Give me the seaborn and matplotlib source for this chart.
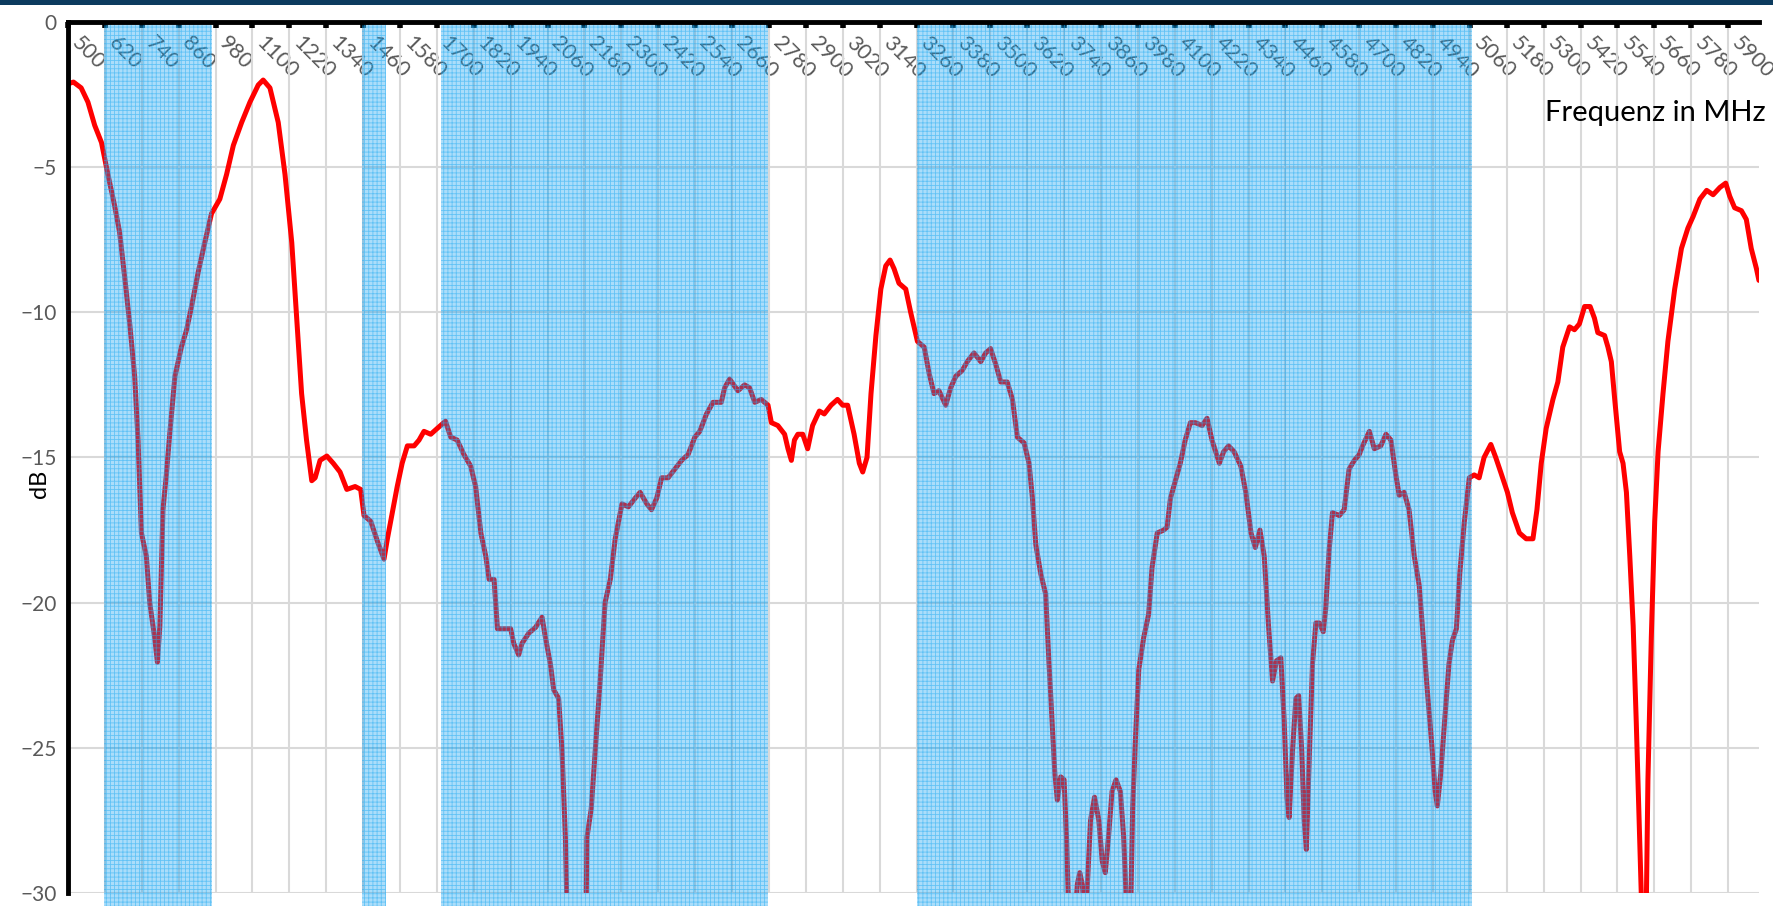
import matplotlib.pyplot as plt
import matplotlib.patches as mpatches
import seaborn as sns
import pandas as pd

# Messkurve (Frequenz in MHz, Pegel in dB)
freq_mhz = [
    500, 518, 543, 565, 587, 609, 630, 652, 668, 685, 701, 717, 728, 739, 755, 766, 782, 791, 799, 809,
    820, 831, 848, 869, 886, 902, 924, 945, 967, 994, 1016, 1038, 1065, 1092, 1119, 1135, 1157, 1184, 1206, 1228,
    1244, 1260, 1276, 1293, 1304, 1320, 1342, 1363, 1385, 1407, 1434, 1452, 1463, 1485, 1507, 1528, 1539, 1555, 1571, 1587,
    1604, 1626, 1642, 1658, 1680, 1701, 1728, 1745, 1766, 1788, 1810, 1826, 1843, 1859, 1870, 1886, 1897, 1918, 1940, 1950,
    1966, 1977, 1999, 2021, 2042, 2053, 2069, 2080, 2096, 2107, 2118, 2124, 2150, 2185, 2188, 2202, 2215, 2231, 2247, 2264,
    2280, 2302, 2323, 2345, 2361, 2383, 2398, 2415, 2431, 2452, 2474, 2496, 2517, 2539, 2555, 2577, 2598, 2625, 2636, 2652,
    2679, 2701, 2717, 2734, 2755, 2777, 2788, 2809, 2831, 2842, 2853, 2863, 2874, 2890, 2906, 2922, 2944, 2960, 2982, 3003,
    3020, 3036, 3057, 3074, 3085, 3099, 3112, 3128, 3144, 3160, 3174, 3187, 3203, 3225, 3241, 3263, 3285, 3301, 3317, 3333,
    3355, 3371, 3388, 3409, 3425, 3447, 3469, 3485, 3501, 3518, 3534, 3555, 3572, 3588, 3610, 3626, 3637, 3648, 3664, 3680,
    3691, 3701, 3710, 3718, 3729, 3740, 3748, 3756, 3770, 3783, 3791, 3799, 3810, 3826, 3839, 3853, 3864, 3874, 3885, 3896,
    3909, 3923, 3934, 3945, 3956, 3963, 3972, 3983, 3999, 4015, 4026, 4043, 4064, 4075, 4086, 4102, 4118, 4134, 4151, 4167,
    4189, 4205, 4221, 4245, 4259, 4275, 4293, 4315, 4331, 4348, 4362, 4377, 4391, 4405, 4418, 4431, 4445, 4456, 4465, 4472,
    4483, 4494, 4503, 4513, 4521, 4528, 4537, 4548, 4559, 4570, 4583, 4591, 4602, 4613, 4635, 4651, 4667, 4684, 4700, 4711,
    4733, 4749, 4770, 4787, 4803, 4819, 4830, 4846, 4862, 4879, 4895, 4908, 4922, 4936, 4947, 4954, 4965, 4979, 4992, 5003,
    5016, 5027, 5042, 5058, 5074, 5090, 5106, 5128, 5144, 5160, 5182, 5198, 5221, 5243, 5265, 5278, 5292, 5308, 5330, 5346,
    5362, 5384, 5400, 5416, 5433, 5451, 5465, 5476, 5498, 5509, 5520, 5531, 5547, 5558, 5569, 5580, 5591, 5601, 5612, 5620,
    5633, 5639, 5650, 5661, 5672, 5688, 5704, 5726, 5748, 5769, 5786, 5808, 5830, 5851, 5873, 5892, 5905, 5921, 5943, 5959,
    5975, 5992, 6000,
]
pegel_db = [
    -2.13, -2.07, -2.27, -2.76, -3.56, -4.15, -5.25, -6.34, -7.24, -8.83, -10.4, -12.2, -14.4, -17.6, -18.4, -20.0, -21.2, -22.05, -20.8, -16.8,
    -15.6, -14.2, -12.2, -11.2, -10.6, -9.8, -8.6, -7.6, -6.6, -6.1, -5.25, -4.25, -3.46, -2.76, -2.17, -2.0, -2.27, -3.46, -5.25, -7.6,
    -10.2, -12.8, -14.4, -15.8, -15.7, -15.1, -14.95, -15.2, -15.5, -16.1, -16.0, -16.1, -17.0, -17.2, -17.9, -18.5, -17.8, -16.9, -16.0, -15.2,
    -14.6, -14.6, -14.4, -14.1, -14.2, -14.0, -13.75, -14.3, -14.4, -14.9, -15.3, -16.0, -17.6, -18.4, -19.2, -19.2, -20.9, -20.9, -20.9, -21.4,
    -21.8, -21.4, -21.05, -20.85, -20.5, -21.2, -22.1, -23.0, -23.3, -25.1, -28.1, -31.0, -34.0, -31.0, -28.1, -27.1, -25.1, -22.7, -20.0, -19.2,
    -17.8, -16.6, -16.7, -16.4, -16.2, -16.6, -16.8, -16.4, -15.7, -15.7, -15.4, -15.1, -14.9, -14.3, -14.1, -13.5, -13.1, -13.1, -12.6, -12.3,
    -12.7, -12.5, -12.6, -13.1, -13.0, -13.2, -13.8, -13.9, -14.2, -14.7, -15.1, -14.4, -14.2, -14.2, -14.7, -13.9, -13.4, -13.5, -13.2, -13.0,
    -13.2, -13.2, -14.2, -15.2, -15.5, -15.0, -12.8, -10.8, -9.2, -8.4, -8.2, -8.5, -9.0, -9.2, -10.0, -11.0, -11.2, -12.1, -12.8, -12.7,
    -13.2, -12.6, -12.2, -12.0, -11.7, -11.4, -11.7, -11.4, -11.25, -11.8, -12.4, -12.4, -13.0, -14.3, -14.5, -15.2, -16.4, -18.0, -19.0, -19.7,
    -22.1, -24.1, -25.9, -26.8, -26.0, -26.1, -28.1, -31.0, -32.0, -29.7, -29.3, -29.7, -31.0, -27.5, -26.7, -27.5, -28.9, -29.3, -28.0, -26.5,
    -26.1, -26.5, -28.1, -31.0, -31.0, -27.1, -24.7, -22.3, -21.2, -20.4, -18.8, -17.6, -17.5, -17.4, -16.4, -15.8, -15.2, -14.4, -13.8, -13.8,
    -13.9, -13.65, -14.4, -15.2, -14.8, -14.6, -14.8, -15.3, -16.2, -17.6, -18.1, -17.5, -18.4, -20.8, -22.7, -22.0, -21.9, -24.1, -26.7, -27.4,
    -25.1, -23.3, -23.2, -25.1, -27.5, -28.5, -25.5, -22.1, -20.7, -20.7, -21.0, -20.2, -18.2, -16.9, -17.0, -16.8, -15.4, -15.1, -14.9, -14.6,
    -14.1, -14.7, -14.6, -14.2, -14.4, -15.6, -16.3, -16.2, -16.8, -18.4, -19.4, -21.2, -23.1, -24.9, -26.5, -27.0, -25.9, -23.9, -22.1, -21.3,
    -20.9, -19.0, -17.2, -15.7, -15.6, -15.7, -15.0, -14.55, -15.0, -15.5, -16.2, -16.9, -17.6, -17.8, -17.8, -16.8, -15.2, -14.0, -13.0, -12.4,
    -11.2, -10.5, -10.6, -10.4, -9.8, -9.8, -10.2, -10.7, -10.8, -11.2, -11.7, -13.0, -14.8, -15.2, -16.2, -18.4, -20.8, -24.1, -28.1, -31.0,
    -31.0, -26.1, -21.2, -17.2, -14.8, -12.8, -11.0, -9.2, -7.8, -7.1, -6.7, -6.1, -5.8, -5.95, -5.7, -5.55, -6.0, -6.4, -6.5, -6.8,
    -7.8, -8.5, -8.9,
]

# Funkbaender (blau hinterlegt)
band_start = [617, 1455, 1712, 3260]
band_end = [970, 1535, 2777, 5066]

x_ticks = list(range(500, 5901, 120))

df = pd.DataFrame({'Frequenz': freq_mhz, 'dB': pegel_db})

sns.set_style('white')
plt.rcParams['font.family'] = ['Lato', 'DejaVu Sans']
plt.rcParams['hatch.linewidth'] = 0.6

fig = plt.figure(figsize=(17.74, 9.06), dpi=100)
ax = fig.add_axes([0.0383, 0.01435, 0.9532, 0.9614])

sns.lineplot(data=df, x='Frequenz', y='dB', color='#ff0000', linewidth=3.6, ax=ax, zorder=2.1)

for a, b in zip(band_start, band_end):
    ax.axvspan(a, b, ymin=-0.016, ymax=1, facecolor=(0.0, 0.6, 0.94, 0.33),
               edgecolor=(0.15, 0.68, 0.95, 0.55), hatch='++++', linewidth=0,
               clip_on=False, zorder=2.2)

ax.set_xlim(500, 6000)
ax.set_ylim(-30, 0)
ax.set_yticks(range(-30, 1, 5))
ax.set_xticks(x_ticks)

ax.grid(True, color='#d9d9d9', linewidth=1.5)
ax.set_axisbelow(True)

ax.xaxis.tick_top()
ax.tick_params(axis='x', top=True, bottom=False, labeltop=True, labelbottom=False,
               direction='in', length=4, width=4, pad=-18, color='black',
               labelcolor='#595959', labelsize=15.5)
ax.tick_params(axis='y', direction='out', length=3, width=4, pad=5, color='black',
               labelcolor='#595959', labelsize=15)
ax.set_xticklabels([str(t) for t in x_ticks])
plt.setp(ax.get_xticklabels(), rotation=-45, ha='left', va='bottom', rotation_mode='anchor')

for s in ['right', 'bottom']:
    ax.spines[s].set_visible(False)
for s in ['left', 'top']:
    ax.spines[s].set_color('black')
    ax.spines[s].set_linewidth(3.5)

ax.set_xlabel('')
ax.set_ylabel('dB', fontsize=17, color='black')
ax.yaxis.set_label_coords(-0.0108, 0.47)
ax.text(1.004, 0.8955, 'Frequenz in MHz', transform=ax.transAxes, ha='right', va='center',
        fontsize=21, color='black')

# dunkler Streifen oben (Folienrand)
fig.add_artist(mpatches.Rectangle((0, 1 - 5 / 906), 1, 5 / 906, transform=fig.transFigure,
                                  facecolor='#0c3b5e', edgecolor='none'))

fig.savefig('out.png', dpi=100)
plt.close(fig)
print("Zapisano wykres")
